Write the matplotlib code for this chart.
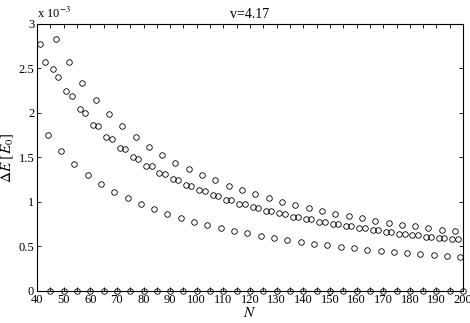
import numpy as np
import matplotlib.pyplot as plt

plt.rcParams['font.family'] = 'Liberation Serif'
plt.rcParams['mathtext.fontset'] = 'stix'

# energy splitting (units of 1e-3 E_0) vs N, five branches spaced by 5 in N
N1 = np.arange(41, 197, 5)
dE1 = [2.78, 2.49, 2.25, 2.04, 1.87, 1.73, 1.61, 1.50, 1.41, 1.33, 1.255, 1.19,
       1.13, 1.075, 1.026, 0.981, 0.94, 0.902, 0.873, 0.835, 0.806, 0.779, 0.753,
       0.727, 0.708, 0.685, 0.663, 0.644, 0.629, 0.610, 0.596, 0.581]

N2 = np.arange(43, 199, 5)
dE2 = [2.57, 2.40, 2.19, 2.00, 1.85, 1.71, 1.59, 1.48, 1.40, 1.31, 1.244, 1.18,
       1.124, 1.067, 1.022, 0.978, 0.936, 0.899, 0.869, 0.833, 0.804, 0.777, 0.751,
       0.725, 0.706, 0.683, 0.661, 0.642, 0.627, 0.608, 0.594, 0.579]

N3 = np.arange(47, 198, 5)
dE3 = [2.83, 2.57, 2.34, 2.15, 1.985, 1.85, 1.73, 1.62, 1.53, 1.44, 1.37, 1.30,
       1.244, 1.18, 1.135, 1.086, 1.045, 1.0, 0.966, 0.933, 0.899, 0.869, 0.843,
       0.817, 0.79, 0.767, 0.746, 0.727, 0.708, 0.689, 0.671]

N4 = np.arange(44, 200, 5)
dE4 = [1.753, 1.573, 1.427, 1.307, 1.206, 1.116, 1.041, 0.978, 0.918, 0.869,
       0.820, 0.779, 0.742, 0.708, 0.674, 0.648, 0.622, 0.596, 0.573, 0.554,
       0.532, 0.513, 0.498, 0.480, 0.465, 0.453, 0.443, 0.427, 0.416, 0.404,
       0.393, 0.382]

N5 = np.arange(45, 201, 5)
dE5 = [0.0] * len(N5)

fig = plt.figure(figsize=(4.70, 3.23), dpi=100)
ax = fig.add_axes([0.0787, 0.0991, 0.9066, 0.8266])

for n, d in [(N1, dE1), (N2, dE2), (N3, dE3), (N4, dE4), (N5, dE5)]:
    ax.plot(n, d, 'o', mfc='none', mec='k', ms=4, mew=0.6, clip_on=False, zorder=3)

ax.set_xlim(40, 200)
ax.set_ylim(0, 3)
ax.set_xticks(np.arange(40, 201, 10))
ax.set_xticks(np.arange(45, 200, 10), minor=True)
ax.set_yticks(np.arange(0, 3.01, 0.5))
ax.set_yticklabels(['0', '0.5', '1', '1.5', '2', '2.5', '3'])
ax.tick_params(which='both', direction='in', top=True, right=True, length=3,
               width=0.6, labelsize=9, pad=2)
for s in ax.spines.values():
    s.set_linewidth(0.8)

ax.set_xlabel('$N$', fontsize=11, labelpad=0)
ax.set_ylabel(r'$\Delta E\ [E_0]$', fontsize=11, labelpad=2)
ax.set_title('v=4.17', fontsize=10, pad=4)
ax.text(0.0, 1.01, r'x 10$^{-3}$', transform=ax.transAxes, fontsize=9,
        ha='left', va='bottom')

fig.savefig('out.png', dpi=100)
